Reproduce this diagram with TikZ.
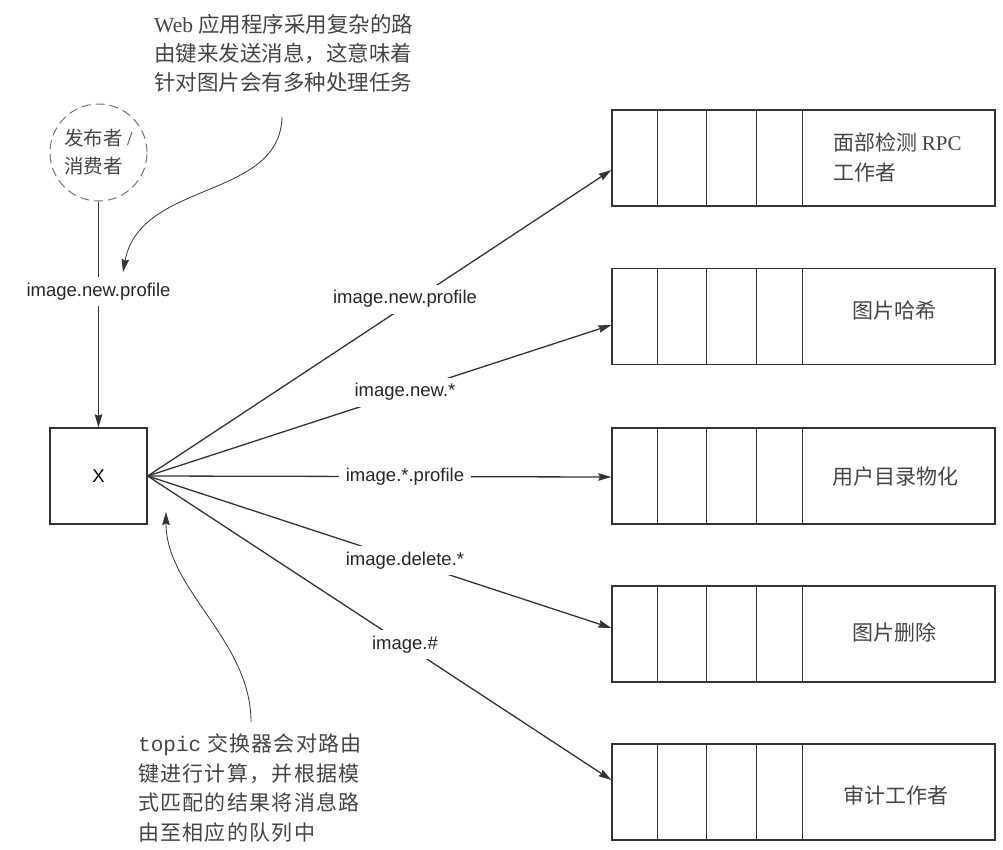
\documentclass[tikz,border=0pt]{standalone}
\usepackage{fontspec}
\setmainfont{Liberation Serif}
\newfontfamily\cjk{Noto Sans CJK SC}
\newfontfamily\cjkwide{Noto Sans CJK SC}[LetterSpace=6]
\newfontfamily\arialf{Liberation Sans}
\newfontfamily\monof{Liberation Mono}
\usetikzlibrary{arrows.meta,calc}
\definecolor{ink}{HTML}{333333}
\definecolor{txt}{HTML}{444444}
\begin{document}
\begin{tikzpicture}[x=1pt,y=-1pt,
  conn/.style={draw=ink, line width=1.3pt},
  arr/.style={conn, -{Stealth[length=13pt,width=7.5pt,inset=1.5pt]}},
  callout/.style={draw=ink, line width=0.8pt, -{Stealth[length=13pt,width=7.5pt,inset=1.5pt]}},
  lbl/.style={font=\arialf\fontsize{18.5}{22}\selectfont, text=black!85, fill=white, inner xsep=7pt, inner ysep=6pt},
  queue/.style={draw=ink, line width=1.3pt, minimum width=383pt, minimum height=96pt, inner sep=0pt},
  qtext/.style={font=\cjk\fontsize{21}{30}\selectfont, text=txt, inner sep=0pt},
  note/.style={text=txt, inner sep=0pt, align=left},
]
\useasboundingbox (0,0) rectangle (1003,849);

% publisher / consumer
\node[circle, draw=black!55, line width=1pt, dash pattern=on 9pt off 5pt, minimum size=97pt, inner sep=0pt,
  font=\cjk\fontsize{19.5}{28}\selectfont, text=txt, align=left] (pub) at (98.5,152.5) {发布者 {\rmfamily /}\\消费者};

% exchange
\node[draw=ink, line width=1.3pt, minimum width=97pt, minimum height=96pt, inner sep=0pt,
  font=\arialf\fontsize{18.5}{22}\selectfont] (x) at (98.5,476) {X};

% queues
\node[queue] (q1) at (803.5,158) {};
\node[queue] (q2) at (803.5,316.5) {};
\node[queue] (q3) at (803.5,476) {};
\node[queue] (q4) at (803.5,634) {};
\node[queue] (q5) at (803.5,792) {};
\foreach \q in {q1,q2,q3,q4,q5}
  \foreach \dx in {46,95,145,191}
    \draw[conn] ($(\q.north west)+(\dx,0)$) -- ($(\q.south west)+(\dx,0)$);

\node[qtext, anchor=west, align=left, font=\cjk\fontsize{21}{30}\selectfont] (l1) at (833,157) {面部检测 {\rmfamily RPC}\\工作者};
\node[qtext] (l2) at (894,311) {图片哈希};
\node[qtext] (l3) at (895,477) {用户目录物化};
\node[qtext] (l4) at (894,632) {图片删除};
\node[qtext] (l5) at (896,795) {审计工作者};

% publish arrow
\draw[arr] (pub.south) -- node[lbl, pos=0.40] (pl) {image.new.profile} (x.north);

% bindings
\draw[arr] (x.east) -- node[lbl, pos=0.555, yshift=7pt] (b1) {image.new.profile} ($(q1.west)+(0,12)$);
\draw[arr] (x.east) -- node[lbl, pos=0.555] (b2) {image.new.*} ($(q2.west)+(0,8.5)$);
\draw[arr] (x.east) -- node[lbl, pos=0.555] (b3) {image.*.profile} ($(q3.west)+(0,1)$);
\draw[arr] (x.east) -- node[lbl, pos=0.555] (b4) {image.delete.*} ($(q4.west)+(0,-6)$);
\draw[arr] (x.east) -- node[lbl, pos=0.555] (b5) {image.\#} ($(q5.west)+(0,-12)$);

% notes
\node[note, anchor=west, font=\fontsize{21.5}{29}\selectfont] (n1) at (154,53)
  {Web {\cjk 应用程序采用复杂的路}\\{\cjk 由键来发送消息，这意味着}\\{\cjk 针对图片会有多种处理任务}};
\node[note, anchor=west, font=\cjkwide\fontsize{21}{29.7}\selectfont] (n2) at (138,788)
  {{\monof topic} 交换器会对路由\\键进行计算，并根据模\\式匹配的结果将消息路\\由至相应的队列中};

\coordinate (c1) at (282,117);
\coordinate (c1e) at (123,272);
\draw[callout] (c1) .. controls (280,200) and (140,180) .. (c1e);
\coordinate (c2) at (251,722);
\coordinate (c2e) at (166,512);
\draw[callout] (c2) .. controls (251,640) and (166,590) .. (c2e);
\end{tikzpicture}
\end{document}
